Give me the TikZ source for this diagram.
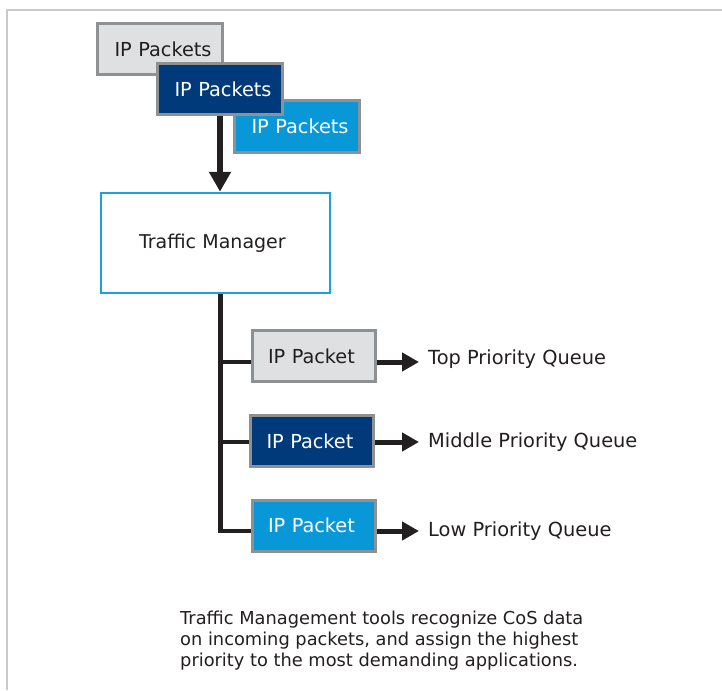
\documentclass[tikz,border=0pt]{standalone}
\usepackage{fontspec}
\setmainfont{DejaVu Sans}
\usetikzlibrary{arrows.meta}
\definecolor{framegray}{HTML}{C8CACC}
\definecolor{bordergray}{HTML}{8E9194}
\definecolor{pktlight}{HTML}{DEE0E2}
\definecolor{pktdark}{HTML}{003A7A}
\definecolor{pktblue}{HTML}{0898D8}
\definecolor{tmblue}{HTML}{1EA0DC}
\definecolor{ink}{HTML}{231F20}
\tikzset{
  frameline/.style={draw=framegray, line width=2.5pt},
  pkt/.style={draw=bordergray, line width=3pt, rectangle, minimum height=51pt,
    font=\fontsize{19.3}{23}\selectfont, inner ysep=0pt},
  stackpkt/.style={pkt, text width=103pt, inner xsep=11pt, align=right},
  queuepkt/.style={pkt, text width=91pt, inner xsep=16pt, align=left},
  lightfill/.style={fill=pktlight, text=ink},
  darkfill/.style={fill=pktdark, text=white},
  bluefill/.style={fill=pktblue, text=white},
  tmbox/.style={draw=tmblue, line width=2.5pt, rectangle, minimum height=100pt,
    text width=153pt, inner xsep=38pt, align=left, text=ink,
    font=\fontsize{19}{23}\selectfont},
  bigarrow/.style={draw=ink, line width=6pt, -{Triangle[length=20pt, width=21pt]}},
  trunkline/.style={draw=ink, line width=4.5pt},
  smallarrow/.style={draw=ink, line width=5pt, -{Triangle[length=17pt, width=18pt]}},
  qlabel/.style={anchor=west, inner sep=0pt, text=ink, font=\fontsize{19.4}{23}\selectfont},
  caption/.style={anchor=base west, inner sep=0pt, align=left, text=ink,
    font=\fontsize{17.8}{21}\selectfont}
}
\begin{document}
\begin{tikzpicture}[x=1pt, y=-1pt]
\useasboundingbox (0,0) rectangle (722,690);
\fill[white] (0,0) rectangle (722,690);
\draw[frameline] (7,690) -- (7,10) -- (722,10);

% stacked incoming packets
\node[stackpkt, lightfill] (s1) at (160,49.5) {IP Packets};
\node[stackpkt, bluefill] (s3) at (297,126.5) {IP Packets};
\node[stackpkt, darkfill] (s2) at (220,89) {IP Packets};

% traffic manager
\node[tmbox] (tm) at (215.5,243) {Traffic Manager};

\draw[bigarrow] (s2.south) -- (tm.north -| s2.south);

% queue packets
\node[queuepkt, lightfill] (p1) at (313.5,356) {IP Packet};
\node[queuepkt, darkfill] (p2) at (312,441) {IP Packet};
\node[queuepkt, bluefill] (p3) at (313.5,525.5) {IP Packet};

\coordinate (trunk) at (220.5,294);
\coordinate (br1) at (0,362);
\coordinate (br2) at (0,442);
\coordinate (br3) at (0,531);

\draw[trunkline] (trunk) -- (trunk |- br3) -- (p3.west |- br3);
\draw[trunkline] (trunk |- br1) -- (p1.west |- br1);
\draw[trunkline] (trunk |- br2) -- (p2.west |- br2);

\node[qlabel] (q1) at (428,359.5) {Top Priority Queue};
\node[qlabel] (q2) at (428,442.5) {Middle Priority Queue};
\node[qlabel] (q3) at (428,531.5) {Low Priority Queue};

\draw[smallarrow] (p1.east |- br1) -- ([xshift=-9pt]q1.west |- br1);
\draw[smallarrow] (p2.east |- br2) -- ([xshift=-9pt]q2.west |- br2);
\draw[smallarrow] (p3.east |- br3) -- ([xshift=-9pt]q3.west |- br3);

\node[caption] (cap) at (180,666) {Traffic Management tools recognize CoS data\\on incoming packets, and assign the highest\\priority to the most demanding applications.};
\end{tikzpicture}
\end{document}
